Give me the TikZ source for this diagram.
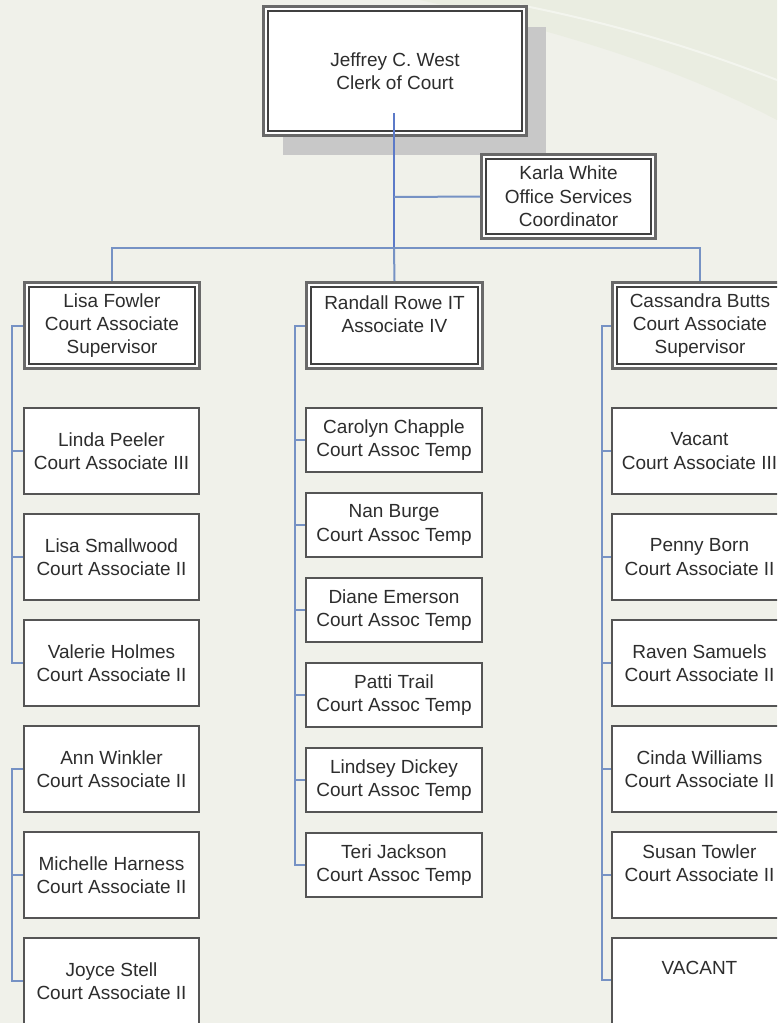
\documentclass[tikz,border=0pt]{standalone}
\usepackage{fontspec}
\setmainfont{Liberation Sans}
\usetikzlibrary{calc}
\definecolor{bgc}{RGB}{240,241,234}
\definecolor{bgtr}{RGB}{234,237,225}
\definecolor{bord}{RGB}{85,85,85}
\definecolor{bordo}{RGB}{105,105,105}
\definecolor{txt}{RGB}{45,45,45}
\definecolor{conn}{RGB}{118,146,196}
\definecolor{connmain}{RGB}{92,122,200}
\definecolor{shad}{RGB}{200,200,200}
\tikzset{
  base/.style={rectangle, anchor=north west, inner sep=0pt, fill=white,
    text=txt, align=center, font=\fontsize{19}{23.3}\selectfont},
  childbox/.style={base, draw=bord, line width=2pt, minimum width=175pt, minimum height=86pt},
  tempbox/.style={base, draw=bord, line width=2pt, minimum width=176pt, minimum height=64pt},
  dblbox/.style={base, draw=bordo, line width=3pt,
    path picture={\draw[bord!75!black, line width=1.3pt]
        ([shift={(4.5pt,-4.5pt)}]path picture bounding box.north west) rectangle
        ([shift={(-4.5pt,4.5pt)}]path picture bounding box.south east);}},
  conn/.style={draw=conn, line width=2pt},
}
\begin{document}
\begin{tikzpicture}[x=1pt,y=-1pt]
\useasboundingbox (0,0) rectangle (777,1023);
\clip (0,0) rectangle (777,1023);
% background
\fill[bgc] (0,0) rectangle (777,1023);
\fill[bgtr] (420,0) .. controls (600,40) and (700,80) .. (777,120) -- (777,0) -- cycle;
\draw[white, line width=2pt, opacity=0.45] (520,5) .. controls (620,25) and (700,50) .. (777,80);
% shadow of top box
\fill[shad] (283,27) rectangle (546,155);
% top box
\node[dblbox, minimum width=263pt, minimum height=129pt] (J) at (262,5) {Jeffrey C. West\\Clerk of Court};
% Karla
\node[dblbox, minimum width=174pt, minimum height=84pt] (K) at (480,153) {Karla White\\Office Services\\Coordinator};
% supervisors
\node[dblbox, minimum width=175pt, minimum height=86pt] (L) at (23,281) {Lisa Fowler\\Court Associate\\Supervisor};
\node[dblbox, minimum width=176pt, minimum height=86pt] (R) at (305,281) {Randall Rowe IT\\Associate IV\\\mbox{}};
\node[dblbox, minimum width=175pt, minimum height=86pt] (C) at (611,281) {Cassandra Butts\\Court Associate\\Supervisor};
% left column
\node[childbox] (l1) at (23,407) {Linda Peeler\\Court Associate III};
\node[childbox] (l2) at (23,513) {Lisa Smallwood\\Court Associate II};
\node[childbox] (l3) at (23,619) {Valerie Holmes\\Court Associate II};
\node[childbox] (l4) at (23,725) {Ann Winkler\\Court Associate II};
\node[childbox] (l5) at (23,831) {Michelle Harness\\Court Associate II};
\node[childbox] (l6) at (23,937) {Joyce Stell\\Court Associate II};
% center column
\node[tempbox] (m1) at (305,407) {Carolyn Chapple\\Court Assoc Temp};
\node[tempbox] (m2) at (305,492) {Nan Burge\\Court Assoc Temp};
\node[tempbox] (m3) at (305,577) {Diane Emerson\\Court Assoc Temp};
\node[tempbox] (m4) at (305,662) {Patti Trail\\Court Assoc Temp};
\node[tempbox] (m5) at (305,747) {Lindsey Dickey\\Court Assoc Temp};
\node[tempbox] (m6) at (305,832) {Teri Jackson\\Court Assoc Temp};
% right column
\node[childbox] (r1) at (611,407) {Vacant\\Court Associate III};
\node[childbox] (r2) at (611,513) {Penny Born\\Court Associate II};
\node[childbox] (r3) at (611,619) {Raven Samuels\\Court Associate II};
\node[childbox] (r4) at (611,725) {Cinda Williams\\Court Associate II};
\node[childbox] (r5) at (611,831) {Susan Towler\\Court Associate II\\\mbox{}};
\node[childbox, minimum height=106pt] (r6) at (611,937) {VACANT\\\mbox{}\\\mbox{}};
% connectors
\coordinate (jin) at (394,113);
\coordinate (bus) at (394,248);
\coordinate (kj) at (394,197);
\draw[draw=connmain, line width=2pt] (jin) -- (bus);
\draw[conn] (bus) -- (R.north);
\draw[conn] (kj) -- (K.west);
\draw[conn] (L.north) |- (bus) -| (C.north);
% left column lines
\coordinate (lx) at (12,0);
\draw[conn] (L.west) -- (L.west -| lx) -- (lx |- l3.west) -- (l3.west);
\draw[conn] (lx |- l1.west) -- (l1.west);
\draw[conn] (lx |- l2.west) -- (l2.west);
\draw[conn] (l4.west) -- (l4.west -| lx) -- (lx |- l6.west) -- (l6.west);
\draw[conn] (lx |- l5.west) -- (l5.west);
% center column lines
\coordinate (mx) at (295,0);
\draw[conn] (R.west) -- (R.west -| mx) -- (mx |- m6.west) -- (m6.west);
\foreach \n in {m1,m2,m3,m4,m5} \draw[conn] (mx |- \n.west) -- (\n.west);
% right column lines
\coordinate (rx) at (602,0);
\coordinate (r6t) at (611,980);
\draw[conn] (C.west) -- (C.west -| rx) -- (rx |- r6t) -- (r6t);
\foreach \n in {r1,r2,r3,r4,r5} \draw[conn] (rx |- \n.west) -- (\n.west);
\end{tikzpicture}
\end{document}
